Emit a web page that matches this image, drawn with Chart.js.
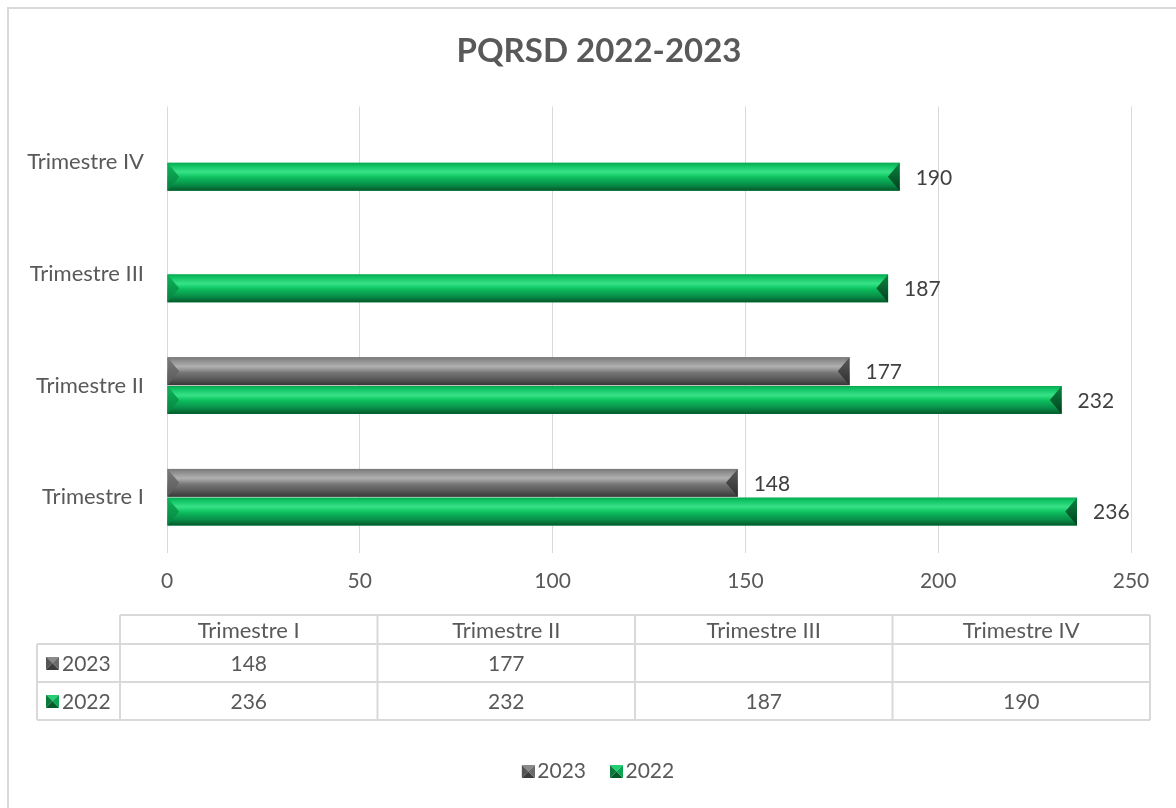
<!DOCTYPE html>
<html><head><meta charset="utf-8">
<script src="https://cdn.jsdelivr.net/npm/chart.js@4.4.1/dist/chart.umd.min.js"></script>
<style>html,body{margin:0;padding:0;background:#fff}#wrap{width:1176px;height:808px;position:relative}canvas{display:block}</style>
</head><body><div id="wrap"><canvas id="c" width="1176" height="808"></canvas></div>
<script>
// ---- data ----
const categories = ['Trimestre I', 'Trimestre II', 'Trimestre III', 'Trimestre IV'];
const seriesNames = ['2023', '2022'];
const values2023 = [148, 177, null, null];
const values2022 = [236, 232, 187, 190];
const xTicks = [0, 50, 100, 150, 200, 250];
const chartTitle = 'PQRSD 2022-2023';

// ---- styles ----
const FONT = "Lato, 'Open Sans', sans-serif";
const TXT = '#595959';
const GRID = '#d9d9d9';
const PAL = {
  gray: {
    base: '#7f7f7f',
    face: [[0,'#777777'],[0.1,'#8a8a8a'],[0.33,'#b0b0b0'],[0.45,'#939393'],[0.55,'#767676'],[0.78,'#595959'],[1,'#383838']],
    left: ['#7a7a7a','#575757'], right: ['#5a5a5a','#2e2e2e'], key: ['#8a8a8a','#6a6a6a','#3c3c3c','#555555']
  },
  green: {
    base: '#00b050',
    face: [[0,'#0aa84f'],[0.1,'#0fc263'],[0.33,'#38e286'],[0.45,'#18cf6c'],[0.55,'#0cb85a'],[0.78,'#08904a'],[1,'#04582a']],
    left: ['#0db45a','#078040'], right: ['#08853f','#033f1e'], key: ['#22d070','#0aa550','#045a2a','#087a3c']
  }
};
const palettes = [PAL.gray, PAL.green];

function makeKey(p, size, shift) {
  const c = document.createElement('canvas');
  c.width = size + 2 * shift; c.height = size;
  const g = c.getContext('2d');
  const x0 = 2 * shift, x1 = x0 + size, y0 = 0, y1 = size, cx = x0 + size / 2, cy = size / 2;
  const tri = (pts, col) => { g.beginPath(); g.moveTo(pts[0][0], pts[0][1]); for (let i = 1; i < pts.length; i++) g.lineTo(pts[i][0], pts[i][1]); g.closePath(); g.fillStyle = col; g.fill(); };
  tri([[x0,y0],[x1,y0],[cx,cy]], p.key[0]);
  tri([[x0,y0],[x0,y1],[cx,cy]], p.key[3]);
  tri([[x0,y1],[x1,y1],[cx,cy]], p.key[2]);
  tri([[x1,y0],[x1,y1],[cx,cy]], p.key[1]);
  return c;
}
const legendKeys = palettes.map(p => makeKey(p, 13, 8));
const tableKeys = palettes.map(p => makeKey(p, 13, 0));

function bevelBar(ctx, l, r, t, b, p) {
  if (r - l < 1) return;
  const h = b - t, m = (t + b) / 2, bw = Math.min(h * 0.42, (r - l) / 2);
  const gf = ctx.createLinearGradient(0, t, 0, b);
  p.face.forEach(s => gf.addColorStop(s[0], s[1]));
  ctx.fillStyle = gf; ctx.fillRect(l, t, r - l, h);
  const gl = ctx.createLinearGradient(0, t, 0, b);
  gl.addColorStop(0, p.left[0]); gl.addColorStop(1, p.left[1]);
  ctx.beginPath(); ctx.moveTo(l, t); ctx.lineTo(l + bw, m); ctx.lineTo(l, b); ctx.closePath(); ctx.fillStyle = gl; ctx.fill();
  const gr = ctx.createLinearGradient(0, t, 0, b);
  gr.addColorStop(0, p.right[0]); gr.addColorStop(1, p.right[1]);
  ctx.beginPath(); ctx.moveTo(r, t); ctx.lineTo(r - bw, m); ctx.lineTo(r, b); ctx.closePath(); ctx.fillStyle = gr; ctx.fill();
}

const framePlugin = {
  id: 'frame',
  beforeDraw(chart) {
    const ctx = chart.ctx;
    ctx.save();
    ctx.fillStyle = '#fff'; ctx.fillRect(0, 0, chart.width, chart.height);
    ctx.strokeStyle = GRID; ctx.lineWidth = 2;
    ctx.strokeRect(8, 8, chart.width + 20, chart.height + 20);
    ctx.restore();
  }
};

// re-centre title and legend on the whole frame (as in the reference)
const centerPlugin = {
  id: 'centerBoxes',
  afterLayout(chart) {
    if (chart.titleBlock) { chart.titleBlock.left = 0; chart.titleBlock.right = 1198; }
    if (chart.legend) { chart.legend.left = 0; chart.legend.right = 1188; }
  }
};

const bevelPlugin = {
  id: 'bevel',
  afterDatasetsDraw(chart) {
    const ctx = chart.ctx;
    ctx.save();
    chart.data.datasets.forEach((ds, di) => {
      const meta = chart.getDatasetMeta(di);
      meta.data.forEach((el, i) => {
        if (ds.data[i] == null) return;
        const pr = el.getProps(['x', 'y', 'base', 'height'], true);
        const l = Math.min(pr.base, pr.x), r = Math.max(pr.base, pr.x);
        bevelBar(ctx, l, r, pr.y - pr.height / 2, pr.y + pr.height / 2, palettes[di]);
      });
    });
    ctx.fillStyle = '#404040';
    ctx.font = '21px ' + FONT;
    ctx.textAlign = 'left'; ctx.textBaseline = 'middle';
    chart.data.datasets.forEach((ds, di) => {
      const meta = chart.getDatasetMeta(di);
      meta.data.forEach((el, i) => {
        if (ds.data[i] == null) return;
        ctx.fillText(String(ds.data[i]), el.x + 16, el.y + 1);
      });
    });
    ctx.restore();
  }
};

const tablePlugin = {
  id: 'dataTable',
  afterDraw(chart) {
    const ctx = chart.ctx;
    const colL = 120, colR = 1150, rowL = 37;
    const rows = [615, 644, 682, 720];
    const n = categories.length, cw = (colR - colL) / n;
    ctx.save();
    ctx.strokeStyle = GRID; ctx.lineWidth = 2;
    ctx.beginPath();
    ctx.moveTo(colL, rows[0]); ctx.lineTo(colR, rows[0]);
    for (let k = 1; k < rows.length; k++) { ctx.moveTo(rowL, rows[k]); ctx.lineTo(colR, rows[k]); }
    ctx.moveTo(rowL, rows[1]); ctx.lineTo(rowL, rows[3]);
    for (let j = 0; j <= n; j++) { const x = colL + j * cw; ctx.moveTo(x, rows[0]); ctx.lineTo(x, rows[3]); }
    ctx.stroke();
    ctx.fillStyle = TXT; ctx.textBaseline = 'middle'; ctx.textAlign = 'center';
    ctx.font = '22px ' + FONT;
    categories.forEach((c, j) => ctx.fillText(c, colL + (j + 0.5) * cw, (rows[0] + rows[1]) / 2 + 1));
    ctx.font = '21px ' + FONT;
    chart.data.datasets.forEach((ds, di) => {
      const yc = (rows[di + 1] + rows[di + 2]) / 2;
      ctx.drawImage(tableKeys[di], 46, yc - 6.5);
      ctx.textAlign = 'left';
      ctx.fillText(ds.label, 62, yc + 1);
      ctx.textAlign = 'center';
      ds.data.forEach((v, j) => { if (v != null) ctx.fillText(String(v), colL + (j + 0.5) * cw, yc + 1); });
    });
    ctx.restore();
  }
};

new Chart(document.getElementById('c'), {
  type: 'bar',
  data: {
    labels: categories,
    datasets: [
      { label: seriesNames[0], data: values2023, backgroundColor: PAL.gray.base, borderWidth: 0, barPercentage: 0.97, categoryPercentage: 0.515 },
      { label: seriesNames[1], data: values2022, backgroundColor: PAL.green.base, borderWidth: 0, barPercentage: 0.97, categoryPercentage: 0.515 }
    ]
  },
  options: {
    indexAxis: 'y',
    responsive: false,
    devicePixelRatio: 1,
    animation: false,
    layout: { padding: { left: 10, right: 45, top: 0, bottom: 16 } },
    scales: {
      x: {
        min: 0, max: 250,
        afterBuildTicks: s => { s.ticks = xTicks.map(v => ({ value: v })); },
        afterFit: s => { s.height = 192; },
        grid: { color: GRID, lineWidth: 1, drawTicks: false },
        border: { display: false },
        ticks: { color: TXT, padding: 16, font: { family: FONT, size: 21 } }
      },
      y: {
        reverse: true,
        afterFit: s => { s.width = 157; },
        grid: { display: false, drawTicks: false },
        border: { display: false },
        ticks: { color: TXT, padding: 23, font: { family: FONT, size: 22 } }
      }
    },
    plugins: {
      title: { display: true, text: chartTitle, color: TXT, font: { family: FONT, size: 33, weight: 'bold' }, padding: { top: 32, bottom: 35 } },
      legend: {
        position: 'bottom',
        labels: {
          usePointStyle: true, boxWidth: 13, boxHeight: 13, padding: 16, color: TXT,
          font: { family: FONT, size: 21 },
          generateLabels: chart => chart.data.datasets.map((ds, i) => ({
            text: ds.label, pointStyle: legendKeys[i], fillStyle: ds.backgroundColor,
            strokeStyle: 'rgba(0,0,0,0)', lineWidth: 0, hidden: false, datasetIndex: i, fontColor: TXT
          }))
        }
      },
      tooltip: { enabled: false }
    }
  },
  plugins: [framePlugin, centerPlugin, bevelPlugin, tablePlugin]
});
</script>
</body></html>
